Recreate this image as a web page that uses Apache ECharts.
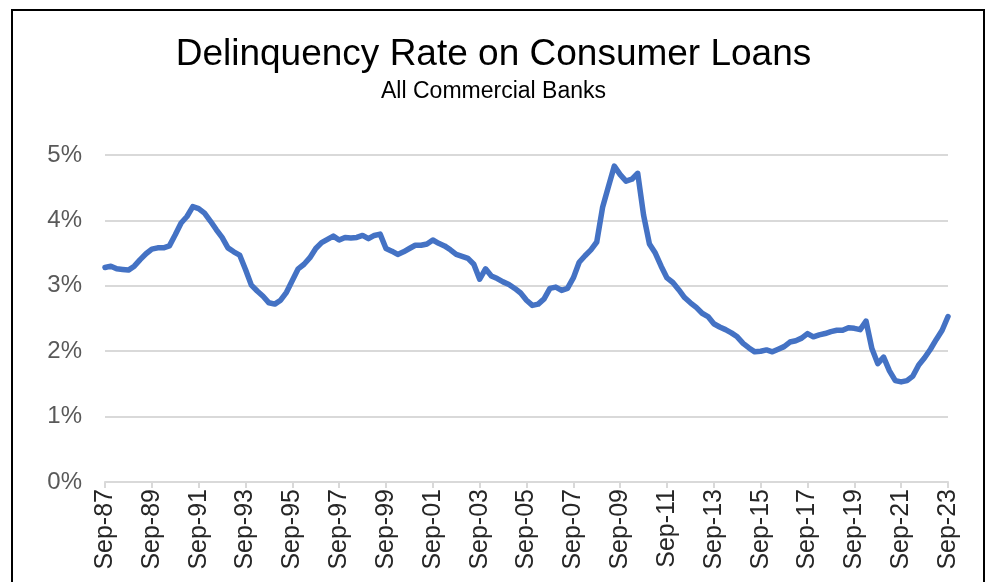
<!DOCTYPE html>
<html>
<head>
<meta charset="utf-8">
<script src="https://cdn.jsdelivr.net/npm/echarts@6/dist/echarts.min.js"></script>
<style>
  html, body { margin: 0; padding: 0; background: #ffffff; }
  #chart { width: 987px; height: 582px; }
</style>
</head>
<body>
<div id="chart"></div>
<script>
// Quarterly delinquency rate on consumer loans (%), Sep-87 through Sep-23
const startYear = 1987;
const quarterMonths = ['Sep', 'Dec', 'Mar', 'Jun'];

const rates = [
  3.28, 3.30, 3.26, 3.25, 3.24, 3.30, 3.40, 3.49, 3.56, 3.58,
  3.58, 3.61, 3.78, 3.96, 4.06, 4.21, 4.18, 4.11, 3.99, 3.86,
  3.74, 3.58, 3.52, 3.47, 3.25, 3.01, 2.92, 2.84, 2.74, 2.72,
  2.78, 2.90, 3.08, 3.26, 3.33, 3.43, 3.57, 3.66, 3.71, 3.76,
  3.70, 3.74, 3.73, 3.74, 3.77, 3.72, 3.77, 3.79, 3.57, 3.53,
  3.48, 3.52, 3.57, 3.62, 3.62, 3.64, 3.70, 3.65, 3.61, 3.55,
  3.48, 3.45, 3.42, 3.33, 3.10, 3.26, 3.15, 3.11, 3.06, 3.02,
  2.96, 2.89, 2.78, 2.70, 2.72, 2.80, 2.96, 2.98, 2.93, 2.96,
  3.12, 3.36, 3.46, 3.55, 3.67, 4.20, 4.52, 4.83, 4.70, 4.60,
  4.63, 4.72, 4.08, 3.64, 3.50, 3.30, 3.12, 3.05, 2.94, 2.82,
  2.74, 2.67, 2.58, 2.53, 2.42, 2.37, 2.33, 2.28, 2.22, 2.12,
  2.05, 1.99, 2.00, 2.02, 1.99, 2.03, 2.07, 2.14, 2.16, 2.20,
  2.27, 2.22, 2.25, 2.27, 2.30, 2.32, 2.32, 2.36, 2.35, 2.33,
  2.46, 2.04, 1.81, 1.91, 1.70, 1.55, 1.53, 1.55, 1.62, 1.79,
  1.90, 2.03, 2.18, 2.32, 2.53
];

// Quarter labels such as "Sep-87", "Dec-87", "Mar-88", ...
const quarters = rates.map((_, i) => {
  const m = quarterMonths[i % 4];
  const yr = startYear + Math.floor((i + 1) / 4);
  return m + '-' + String(yr % 100).padStart(2, '0');
});

const yTicks = [0, 1, 2, 3, 4, 5];

const chart = echarts.init(document.getElementById('chart'), null, { renderer: 'canvas' });

chart.setOption({
  backgroundColor: '#ffffff',
  animation: false,
  title: [
    {
      text: 'Delinquency Rate on Consumer Loans',
      left: 'center',
      top: 31,
      textStyle: { fontFamily: 'Liberation Sans', fontSize: 37, fontWeight: 'normal', color: '#000000' }
    },
    {
      text: 'All Commercial Banks',
      left: 'center',
      top: 75,
      textStyle: { fontFamily: 'Liberation Sans', fontSize: 23, fontWeight: 'normal', color: '#000000' }
    }
  ],
  grid: { left: 105, right: 39, top: 155, bottom: 100, containLabel: false },
  xAxis: {
    type: 'category',
    data: quarters,
    boundaryGap: false,
    axisLine: { lineStyle: { color: '#d9d9d9', width: 2 } },
    axisTick: { show: true, interval: 7, length: 6, lineStyle: { color: '#d9d9d9', width: 2 } },
    axisLabel: {
      interval: 7,
      rotate: 90,
      margin: 7,
      fontFamily: 'Liberation Sans',
      fontSize: 25,
      color: '#262626'
    },
    splitLine: { show: false }
  },
  yAxis: {
    type: 'value',
    min: yTicks[0],
    max: yTicks[yTicks.length - 1],
    interval: 1,
    axisLine: { show: false },
    axisTick: { show: false },
    axisLabel: {
      margin: 23,
      fontFamily: 'Liberation Sans',
      fontSize: 24,
      color: '#595959',
      formatter: v => v + '%'
    },
    splitLine: { lineStyle: { color: '#d9d9d9', width: 2 } }
  },
  series: [
    {
      type: 'line',
      data: rates,
      showSymbol: false,
      symbol: 'none',
      smooth: false,
      lineStyle: { color: '#4472c4', width: 5.5, join: 'round', cap: 'round' }
    }
  ],
  graphic: [
    {
      type: 'rect',
      shape: { x: 12, y: 10, width: 972, height: 600 },
      style: { fill: 'none', stroke: '#000000', lineWidth: 2 },
      silent: true
    }
  ]
});
</script>
</body>
</html>
